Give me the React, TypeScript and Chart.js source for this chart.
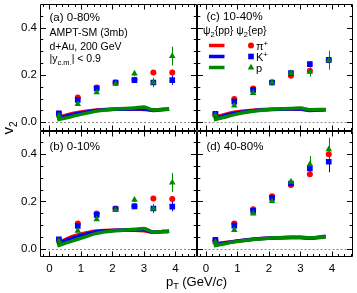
import React, { useEffect, useRef } from 'react';
import { Chart, registerables } from 'chart.js';

Chart.register(...registerables);

const FONT = '"Liberation Sans", Arial, Helvetica, sans-serif';
const RED = '#ff0000';
const BLUE = '#0000ff';
const GREEN = '#008a00';

// pT values of the markers and of the model curves
const ptPoints = [0.3, 0.9, 1.5, 2.1, 2.7, 3.3, 3.9];
const ptLines = [0.25, 0.55, 0.9, 1.5, 2.1, 2.7, 3.0, 3.3, 3.8];

// tick labels
const xTickValues = [0, 1, 2, 3, 4];
const yTickValues = [0, 0.2, 0.4];

// (a) 0-80%
const aPi = [0.036, 0.105, 0.147, 0.168, 0.18, 0.21, 0.21];
const aK = [0.038, 0.094, 0.143, 0.168, 0.178, 0.168, 0.178];
const aP = [0.028, 0.077, 0.126, 0.162, 0.206, 0.168, 0.28];
const aPiErr = [0.003, 0.004, 0.004, 0.005, 0.006, 0.008, 0.012];
const aKErr = [0.004, 0.005, 0.006, 0.007, 0.008, 0.012, 0.02];
const aPErr = [0.005, 0.006, 0.007, 0.008, 0.01, 0.02, 0.04];
const aLineR = [0.02, 0.031, 0.041, 0.052, 0.055, 0.055, 0.054, 0.053, 0.055];
const aLineB = [0.016, 0.027, 0.037, 0.05, 0.055, 0.056, 0.056, 0.05, 0.056];
const aLineG = [0.01, 0.019, 0.03, 0.047, 0.056, 0.06, 0.064, 0.052, 0.056];

// (b) 0-10%
const bPi = [0.037, 0.107, 0.149, 0.17, 0.18, 0.212, 0.21];
const bK = [0.04, 0.096, 0.143, 0.168, 0.179, 0.17, 0.178];
const bP = [0.033, 0.076, 0.124, 0.163, 0.207, 0.17, 0.28];
const bPiErr = [0.003, 0.004, 0.004, 0.005, 0.006, 0.008, 0.012];
const bKErr = [0.004, 0.005, 0.006, 0.007, 0.008, 0.012, 0.02];
const bPErr = [0.005, 0.006, 0.007, 0.008, 0.01, 0.02, 0.04];
const bLineR = [0.021, 0.042, 0.058, 0.075, 0.078, 0.078, 0.076, 0.07, 0.074];
const bLineB = [0.018, 0.037, 0.052, 0.072, 0.078, 0.08, 0.08, 0.07, 0.074];
const bLineG = [0.012, 0.026, 0.04, 0.065, 0.076, 0.082, 0.086, 0.07, 0.074];

// (c) 10-40%
const cPi = [0.035, 0.098, 0.143, 0.168, 0.197, 0.218, 0.262];
const cK = [0.035, 0.087, 0.137, 0.168, 0.208, 0.246, 0.264];
const cP = [0.03, 0.07, 0.123, 0.168, 0.208, 0.213, 0.262];
const cPiErr = [0.003, 0.004, 0.004, 0.005, 0.006, 0.008, 0.012];
const cKErr = [0.004, 0.005, 0.006, 0.007, 0.008, 0.012, 0.02];
const cPErr = [0.005, 0.006, 0.007, 0.008, 0.01, 0.02, 0.04];
const cLineR = [0.02, 0.031, 0.042, 0.051, 0.055, 0.055, 0.055, 0.052, 0.053];
const cLineB = [0.016, 0.027, 0.038, 0.049, 0.054, 0.056, 0.056, 0.05, 0.053];
const cLineG = [0.01, 0.02, 0.032, 0.046, 0.055, 0.058, 0.06, 0.053, 0.054];

// (d) 40-80%
const dPi = [0.036, 0.107, 0.167, 0.222, 0.27, 0.315, 0.4];
const dK = [0.0375, 0.098, 0.16, 0.215, 0.276, 0.34, 0.368];
const dP = [0.028, 0.079, 0.149, 0.201, 0.283, 0.357, 0.42];
const dPiErr = [0.003, 0.004, 0.005, 0.006, 0.008, 0.01, 0.015];
const dKErr = [0.004, 0.005, 0.006, 0.007, 0.01, 0.02, 0.045];
const dPErr = [0.005, 0.006, 0.007, 0.008, 0.012, 0.035, 0.05];
const dLineR = [0.02, 0.025, 0.031, 0.04, 0.045, 0.047, 0.047, 0.044, 0.05];
const dLineB = [0.017, 0.023, 0.031, 0.04, 0.045, 0.047, 0.047, 0.046, 0.053];
const dLineG = [0.012, 0.02, 0.029, 0.039, 0.045, 0.048, 0.048, 0.046, 0.051];

const panelLabels = ['(a) 0-80%', '(b) 0-10%', '(c) 10-40%', '(d) 40-80%'];

type PanelDef = {
  x: string;
  y: string;
  pi: number[]; k: number[]; p: number[];
  piErr: number[]; kErr: number[]; pErr: number[];
  lr: number[]; lb: number[]; lg: number[];
};

const panels: PanelDef[] = [
  { x: 'xl', y: 'yt', pi: aPi, k: aK, p: aP, piErr: aPiErr, kErr: aKErr, pErr: aPErr, lr: aLineR, lb: aLineB, lg: aLineG },
  { x: 'xl', y: 'yb', pi: bPi, k: bK, p: bP, piErr: bPiErr, kErr: bKErr, pErr: bPErr, lr: bLineR, lb: bLineB, lg: bLineG },
  { x: 'xr', y: 'yt', pi: cPi, k: cK, p: cP, piErr: cPiErr, kErr: cKErr, pErr: cPErr, lr: cLineR, lb: cLineB, lg: cLineG },
  { x: 'xr', y: 'yb', pi: dPi, k: dK, p: dP, piErr: dPiErr, kErr: dKErr, pErr: dPErr, lr: dLineR, lb: dLineB, lg: dLineG },
];

type Part = { t: string; s: number; dy?: number; italic?: boolean };

function partFont(p: Part) {
  return `${p.italic ? 'italic ' : ''}${p.s}px ${FONT}`;
}

function drawParts(ctx: CanvasRenderingContext2D, parts: Part[], x: number, y: number, align: 'left' | 'center' = 'left') {
  let w = 0;
  for (const p of parts) {
    ctx.font = partFont(p);
    w += ctx.measureText(p.t).width;
  }
  let cx = align === 'center' ? x - w / 2 : x;
  ctx.textAlign = 'left';
  ctx.textBaseline = 'alphabetic';
  ctx.fillStyle = '#000';
  for (const p of parts) {
    ctx.font = partFont(p);
    ctx.fillText(p.t, cx, y + (p.dy || 0));
    cx += ctx.measureText(p.t).width;
  }
}

function drawMarker(ctx: CanvasRenderingContext2D, style: string, x: number, y: number, color: string) {
  ctx.fillStyle = color;
  ctx.beginPath();
  if (style === 'circle') {
    ctx.arc(x, y, 3, 0, Math.PI * 2);
  } else if (style === 'rect') {
    ctx.rect(x - 2.8, y - 2.8, 5.6, 5.6);
  } else {
    const r = 3.8;
    ctx.moveTo(x, y - r);
    ctx.lineTo(x + r * 0.866, y + r * 0.5);
    ctx.lineTo(x - r * 0.866, y + r * 0.5);
    ctx.closePath();
  }
  ctx.fill();
}

const framePlugin = {
  id: 'rootFrame',
  beforeDatasetsDraw(chart: any) {
    const ctx: CanvasRenderingContext2D = chart.ctx;
    ctx.save();
    // zero lines
    for (const pd of panels) {
      const xs = chart.scales[pd.x];
      const ys = chart.scales[pd.y];
      const y0 = Math.round(ys.getPixelForValue(0)) + 0.5;
      ctx.strokeStyle = '#8a8a8a';
      ctx.lineWidth = 1;
      ctx.setLineDash([2, 2]);
      ctx.beginPath();
      ctx.moveTo(xs.left, y0);
      ctx.lineTo(xs.right, y0);
      ctx.stroke();
    }
    ctx.setLineDash([]);
    // error bars
    chart.data.datasets.forEach((ds: any) => {
      if (!ds.errs) return;
      const xs = chart.scales[ds.xAxisID];
      const ys = chart.scales[ds.yAxisID];
      ctx.strokeStyle = ds.borderColor;
      ctx.lineWidth = 1;
      ds.data.forEach((pt: any, i: number) => {
        const e = ds.errs[i];
        const px = Math.round(xs.getPixelForValue(pt.x)) + 0.5;
        ctx.beginPath();
        ctx.moveTo(px, ys.getPixelForValue(pt.y - e));
        ctx.lineTo(px, ys.getPixelForValue(pt.y + e));
        ctx.stroke();
      });
    });
    ctx.restore();
  },
  afterDatasetsDraw(chart: any) {
    const ctx: CanvasRenderingContext2D = chart.ctx;
    ctx.save();
    ctx.strokeStyle = '#000';
    ctx.lineWidth = 1;
    for (const pd of panels) {
      const xs = chart.scales[pd.x];
      const ys = chart.scales[pd.y];
      const L = Math.round(xs.left) + 0.5;
      const R = Math.round(xs.right) - 0.5;
      const T = Math.round(ys.top) + 0.5;
      const B = Math.round(ys.bottom) - 0.5;
      ctx.beginPath();
      ctx.rect(L, T, R - L, B - T);
      ctx.stroke();
      ctx.beginPath();
      // x ticks every 0.2
      const xmin = xs.min, xmax = xs.max;
      for (let k = Math.ceil(xmin / 0.2 - 1e-6); k * 0.2 <= xmax + 1e-6; k++) {
        const v = k * 0.2;
        const px = Math.round(xs.getPixelForValue(v)) + 0.5;
        if (px <= L + 0.5 || px >= R - 0.5) continue;
        const major = k % 5 === 0;
        const len = major ? 5 : 2.5;
        ctx.moveTo(px, B);
        ctx.lineTo(px, B - len);
        ctx.moveTo(px, T);
        ctx.lineTo(px, T + len);
      }
      // y ticks every 0.05
      const ymin = ys.min, ymax = ys.max;
      for (let k = Math.ceil(ymin / 0.05 - 1e-6); k * 0.05 <= ymax + 1e-6; k++) {
        const v = k * 0.05;
        const py = Math.round(ys.getPixelForValue(v)) + 0.5;
        if (py <= T + 0.5 || py >= B - 0.5) continue;
        const major = k % 4 === 0;
        const len = major ? 5.5 : 2.8;
        ctx.moveTo(L, py);
        ctx.lineTo(L + len, py);
        ctx.moveTo(R, py);
        ctx.lineTo(R - len, py);
      }
      ctx.stroke();
    }

    const xl = chart.scales.xl, xr = chart.scales.xr, yt = chart.scales.yt, yb = chart.scales.yb;
    // panel labels
    drawParts(ctx, [{ t: panelLabels[0], s: 11.5 }], xl.left + 9.5, yt.top + 17);
    drawParts(ctx, [{ t: panelLabels[1], s: 11.5 }], xl.left + 9.5, yb.top + 19);
    drawParts(ctx, [{ t: panelLabels[2], s: 11.5 }], xr.left + 10, yt.top + 16);
    drawParts(ctx, [{ t: panelLabels[3], s: 11.5 }], xr.left + 10, yb.top + 19);

    // model description
    drawParts(ctx, [{ t: 'AMPT-SM (3mb)', s: 10.5 }], xl.left + 9.5, yt.top + 32);
    drawParts(ctx, [{ t: 'd+Au, 200 GeV', s: 10.5 }], xl.left + 9.5, yt.top + 45.5);
    drawParts(ctx, [
      { t: '|y', s: 10.5 },
      { t: 'c.m.', s: 7.5, dy: 3 },
      { t: '| < 0.9', s: 10.5 },
    ], xl.left + 9.5, yt.top + 58);

    // legend
    drawParts(ctx, [
      { t: 'ψ', s: 10.5 },
      { t: '2', s: 7.5, dy: 2.5 },
      { t: '{pp} ψ', s: 10.5 },
      { t: '2', s: 7.5, dy: 2.5 },
      { t: '{ep}', s: 10.5 },
    ], xr.left + 6.5, yt.top + 30);
    const rows = [
      { c: RED, m: 'circle', lab: [{ t: 'π', s: 11 }, { t: '+', s: 8, dy: -4 }] },
      { c: BLUE, m: 'rect', lab: [{ t: 'K', s: 11 }, { t: '+', s: 8, dy: -4 }] },
      { c: GREEN, m: 'triangle', lab: [{ t: 'p', s: 11 }] },
    ];
    rows.forEach((r, i) => {
      const y = yt.top + 41.5 + i * 11;
      ctx.strokeStyle = r.c;
      ctx.lineWidth = 3.5;
      ctx.beginPath();
      ctx.moveTo(xr.left + 12.5, y);
      ctx.lineTo(xr.left + 28, y);
      ctx.stroke();
      drawMarker(ctx, r.m, xr.left + 54.5, y, r.c);
      drawParts(ctx, r.lab as Part[], xr.left + 59.5, y + 4);
    });

    // axis titles
    const cx = (chart.chartArea.left + chart.chartArea.right) / 2;
    drawParts(ctx, [
      { t: 'p', s: 13 },
      { t: 'T', s: 9, dy: 3 },
      { t: ' (GeV/', s: 13 },
      { t: 'c', s: 13, italic: true },
      { t: ')', s: 13 },
    ], cx, chart.height - 7, 'center');

    ctx.save();
    ctx.translate(13, 128);
    ctx.rotate(-Math.PI / 2);
    drawParts(ctx, [
      { t: 'v', s: 15 },
      { t: '2', s: 10, dy: 3.5 },
    ], 0, 0, 'center');
    ctx.restore();

    ctx.restore();
  },
};

function buildDatasets() {
  const out: any[] = [];
  panels.forEach((pd) => {
    const lineDefs = [
      { v: pd.lr, c: RED, order: 30 },
      { v: pd.lb, c: BLUE, order: 29 },
      { v: pd.lg, c: GREEN, order: 28 },
    ];
    lineDefs.forEach((ld) => {
      out.push({
        data: ptLines.map((x, i) => ({ x, y: ld.v[i] })),
        xAxisID: pd.x,
        yAxisID: pd.y,
        showLine: true,
        borderColor: ld.c,
        backgroundColor: ld.c,
        borderWidth: 3.5,
        pointRadius: 0,
        tension: 0.4,
        cubicInterpolationMode: 'monotone',
        order: ld.order,
      });
    });
    const ptDefs = [
      { v: pd.pi, e: pd.piErr, c: RED, s: 'circle', r: 3, order: 12 },
      { v: pd.k, e: pd.kErr, c: BLUE, s: 'rect', r: 4, order: 11 },
      { v: pd.p, e: pd.pErr, c: GREEN, s: 'triangle', r: 3.8, order: 10 },
    ];
    ptDefs.forEach((pdf) => {
      out.push({
        data: ptPoints.map((x, i) => ({ x, y: pdf.v[i] })),
        errs: pdf.e,
        xAxisID: pd.x,
        yAxisID: pd.y,
        showLine: false,
        pointStyle: pdf.s,
        pointRadius: pdf.r,
        pointBorderWidth: 0,
        borderWidth: 0,
        borderColor: pdf.c,
        backgroundColor: pdf.c,
        pointBackgroundColor: pdf.c,
        order: pdf.order,
      });
    });
  });
  return out;
}

function xScale(extra: any) {
  return {
    type: 'linear',
    position: 'bottom',
    stack: 'xs',
    stackWeight: 1,
    min: -0.3,
    max: 4.67,
    grid: { display: false, drawTicks: false },
    border: { display: false },
    ticks: {
      color: '#000',
      font: { family: FONT, size: 11.5 },
      padding: 5,
      autoSkip: false,
      maxRotation: 0,
      callback: (v: number) => String(v),
    },
    afterBuildTicks: (s: any) => {
      s.ticks = xTickValues.map((v) => ({ value: v }));
    },
    afterFit: (s: any) => {
      s.height = 36;
      s.paddingLeft = 0;
      s.paddingRight = 0;
      s.paddingTop = 0;
      s.paddingBottom = 0;
    },
    ...extra,
  };
}

function yScale(extra: any) {
  return {
    type: 'linear',
    position: 'left',
    stack: 'ys',
    stackWeight: 1,
    min: -0.035,
    max: 0.5,
    grid: { display: false, drawTicks: false },
    border: { display: false },
    ticks: {
      color: '#000',
      font: { family: FONT, size: 11.5 },
      padding: 3,
      autoSkip: false,
      callback: (v: number) => v.toFixed(1),
    },
    afterBuildTicks: (s: any) => {
      s.ticks = yTickValues.map((v) => ({ value: v }));
    },
    afterFit: (s: any) => {
      s.width = 40;
      s.paddingLeft = 0;
      s.paddingRight = 0;
      s.paddingTop = 0;
      s.paddingBottom = 0;
    },
    ...extra,
  };
}

export default function App() {
  const ref = useRef<HTMLCanvasElement | null>(null);
  useEffect(() => {
    if (!ref.current) return;
    const chart = new Chart(ref.current, {
      type: 'scatter',
      data: { datasets: buildDatasets() },
      options: {
        animation: false,
        responsive: false,
        devicePixelRatio: 1,
        events: [],
        layout: { padding: { top: 2, right: 2, left: 0, bottom: 0 } },
        plugins: { legend: { display: false }, tooltip: { enabled: false } },
        scales: {
          xl: xScale({}),
          xr: xScale({}),
          yb: yScale({}),
          yt: yScale({}),
        } as any,
      } as any,
      plugins: [framePlugin],
    } as any);
    return () => chart.destroy();
  }, []);
  return (
    <div style={{ position: 'absolute', left: 0, top: 0, width: 357, height: 293, background: '#fff' }}>
      <canvas ref={ref} width={357} height={293} style={{ display: 'block' }} />
    </div>
  );
}
